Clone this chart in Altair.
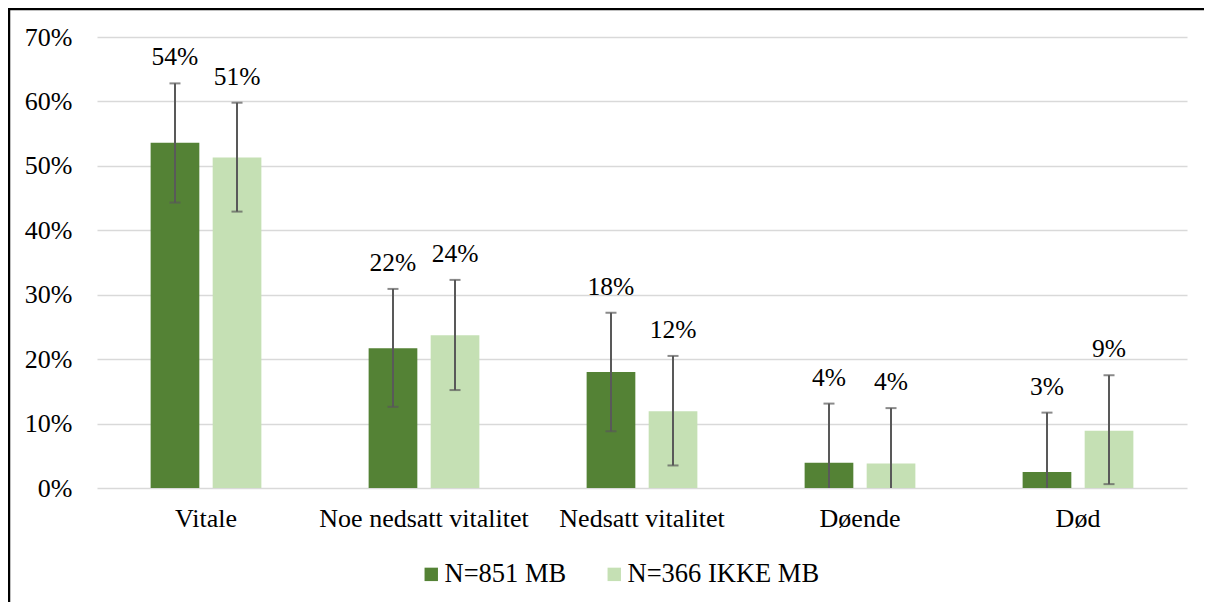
import altair as alt
import pandas as pd

categories = ["Vitale", "Noe nedsatt vitalitet", "Nedsatt vitalitet", "Døende", "Død"]
series = ["N=851 MB", "N=366 IKKE MB"]

mb_values = [53.6, 21.7, 18.0, 3.9, 2.5]
ikke_values = [51.3, 23.7, 11.9, 3.8, 8.9]

mb_hi = [62.8, 30.9, 27.2, 13.1, 11.7]
mb_lo = [44.3, 12.6, 8.8, 0.0, 0.0]
ikke_hi = [59.8, 32.3, 20.5, 12.4, 17.5]
ikke_lo = [42.9, 15.2, 3.5, 0.0, 0.6]

mb_labels = ["54%", "22%", "18%", "4%", "3%"]
ikke_labels = ["51%", "24%", "12%", "4%", "9%"]

colors = ["#548235", "#C5E0B4"]

rows = []
for i, c in enumerate(categories):
    rows.append({"cat": c, "ser": series[0], "v": mb_values[i], "hi": mb_hi[i], "lo": mb_lo[i], "lab": mb_labels[i]})
    rows.append({"cat": c, "ser": series[1], "v": ikke_values[i], "hi": ikke_hi[i], "lo": ikke_lo[i], "lab": ikke_labels[i]})
df = pd.DataFrame(rows)

FONT = "Times New Roman"
W, H = 1090, 451
PL, PT = 89, 29
CW, CH = 1196, 594

x_enc = alt.X("cat:N", sort=categories,
              scale=alt.Scale(paddingInner=0.492, paddingOuter=0.246),
              axis=alt.Axis(title=None, labelAngle=0, domain=False, ticks=False,
                            labelFont=FONT, labelFontSize=26, labelColor="#000000",
                            labelPadding=17, labelLimit=0))
xo_enc = alt.XOffset("ser:N", sort=series, scale=alt.Scale(paddingInner=0.215, paddingOuter=0))
y_scale = alt.Scale(domain=[0, 70], nice=False)

base = alt.Chart(df)

bars = base.mark_bar().encode(
    x=x_enc,
    xOffset=xo_enc,
    y=alt.Y("v:Q", scale=y_scale,
            axis=alt.Axis(title=None, values=[0, 10, 20, 30, 40, 50, 60, 70],
                          labelExpr="datum.value + '%'", domain=False, ticks=False,
                          gridColor="#d9d9d9", gridWidth=1.5,
                          labelFont=FONT, labelFontSize=26, labelColor="#000000",
                          labelPadding=25)),
    color=alt.Color("ser:N", sort=series,
                    scale=alt.Scale(domain=series, range=colors),
                    legend=alt.Legend(title=None, orient="none", legendX=321, legendY=524,
                                      padding=0, direction="horizontal", symbolType="square",
                                      symbolSize=180, symbolStrokeWidth=0,
                                      labelFont=FONT, labelFontSize=26.5, labelColor="#000000",
                                      labelOffset=0, columnPadding=34, labelLimit=400)),
)

err = base.mark_rule(color="#595959", strokeWidth=2).encode(
    x=alt.X("cat:N", sort=categories),
    xOffset=alt.XOffset("ser:N", sort=series),
    y=alt.Y("lo:Q", scale=y_scale),
    y2="hi:Q",
)

cap_hi = base.mark_tick(color="#595959", size=11, thickness=2).encode(
    x=alt.X("cat:N", sort=categories),
    xOffset=alt.XOffset("ser:N", sort=series),
    y=alt.Y("hi:Q", scale=y_scale),
)

cap_lo = base.transform_filter("datum.lo > 0").mark_tick(color="#595959", size=11, thickness=2).encode(
    x=alt.X("cat:N", sort=categories),
    xOffset=alt.XOffset("ser:N", sort=series),
    y=alt.Y("lo:Q", scale=y_scale),
)

labels = base.mark_text(font=FONT, fontSize=25.5, color="#000000", baseline="middle", dy=-26).encode(
    x=alt.X("cat:N", sort=categories),
    xOffset=alt.XOffset("ser:N", sort=series),
    y=alt.Y("hi:Q", scale=y_scale),
    text="lab:N",
)

one = alt.Chart(pd.DataFrame({"k": [0]}))
border_top = one.mark_rule(color="#000000", strokeWidth=2.5).encode(
    x=alt.value(-PL), x2=alt.value(CW - PL), y=alt.value(-PT + 1))
border_left = one.mark_rule(color="#000000", strokeWidth=2.5).encode(
    x=alt.value(-PL + 1), y=alt.value(-PT), y2=alt.value(CH - PT))

chart = alt.layer(bars, err, cap_hi, cap_lo, labels, border_top, border_left).properties(
    width=W, height=H,
    autosize=alt.AutoSizeParams(type="none"),
    padding={"left": PL, "top": PT, "right": CW - PL - W, "bottom": CH - PT - H},
    background="#ffffff",
).configure(font=FONT).configure_view(strokeWidth=0)

chart.save("out.html", embed_options={"renderer": "svg", "actions": False})
